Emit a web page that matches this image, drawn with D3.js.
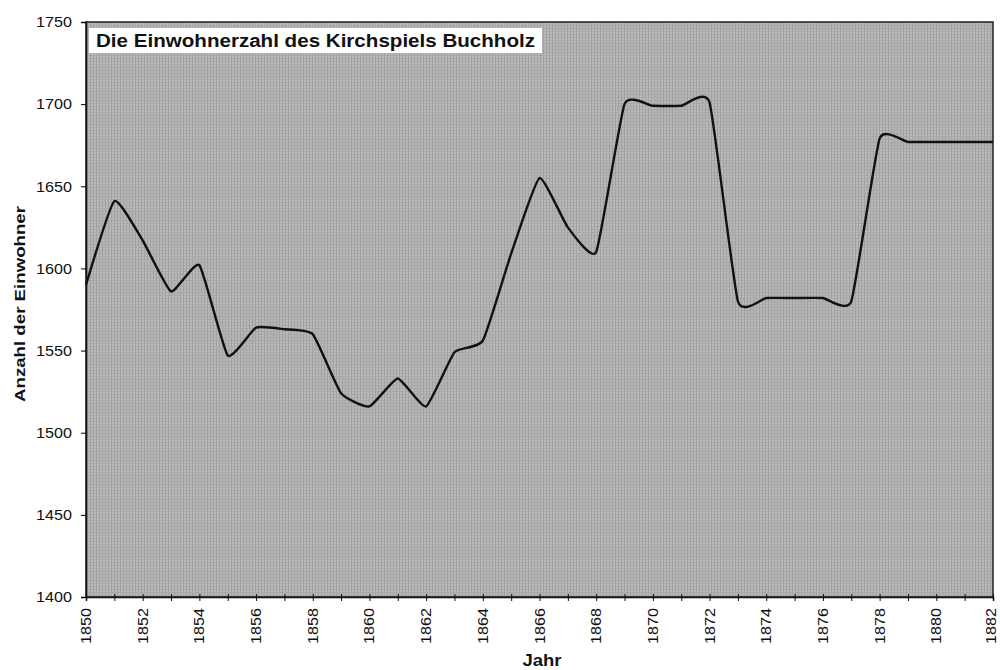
<!DOCTYPE html>
<html><head><meta charset="utf-8">
<script src="https://cdn.jsdelivr.net/npm/d3@7"></script>
<style>body{margin:0;background:#fff}svg{display:block}text{font-family:Arial,"Liberation Sans",sans-serif}</style>
</head><body><svg id="c" width="1000" height="670"></svg>
<script>
const years = [1850,1851,1852,1853,1854,1855,1856,1857,1858,1859,1860,1861,1862,1863,1864,1865,1866,1867,1868,1869,1870,1871,1872,1873,1874,1875,1876,1877,1878,1879,1880,1881,1882];
const population = [1590,1641,1617,1586,1602,1547,1564,1563,1560,1524,1516,1533,1516,1549,1556,1609,1655,1625,1610,1700,1699,1699,1701,1580,1582,1582,1582,1580,1679,1677,1677,1677,1677];
const yTicks = [1400,1450,1500,1550,1600,1650,1700,1750];
const xTicks = [1850,1852,1854,1856,1858,1860,1862,1864,1866,1868,1870,1872,1874,1876,1878,1880,1882];
const title = "Die Einwohnerzahl des Kirchspiels Buchholz";
const xTitle = "Jahr", yTitle = "Anzahl der Einwohner";

const svg = d3.select("#c");
const L=86,R=993,T=22,B=597;
const x = d3.scaleLinear().domain([1850,1882]).range([L,R]);
const y = d3.scaleLinear().domain([1400,1750]).range([B,T]);

const defs = svg.append("defs");
const pat = defs.append("pattern").attr("id","tex").attr("width",3).attr("height",3).attr("patternUnits","userSpaceOnUse");
pat.append("rect").attr("width",3).attr("height",3).attr("fill","#b9b9b9");
pat.append("rect").attr("x",0).attr("y",0).attr("width",1).attr("height",3).attr("fill","#a0a0a0");
pat.append("rect").attr("x",0).attr("y",1).attr("width",3).attr("height",1).attr("fill","#a8a8a8");

svg.append("rect").attr("x",L).attr("y",T).attr("width",R-L).attr("height",B-T).attr("fill","url(#tex)").attr("stroke","#222").attr("stroke-width",1.5);

const ya = svg.append("g").attr("transform",`translate(${L},0)`).call(d3.axisLeft(y).tickValues(yTicks).tickSize(5).tickPadding(9).tickFormat(d3.format("d")));
ya.select(".domain").attr("stroke","#111").attr("stroke-width",1.5);
ya.selectAll("text").attr("font-size",15).attr("fill","#111").attr("textLength",36).attr("lengthAdjust","spacingAndGlyphs");
const xa = svg.append("g").attr("transform",`translate(0,${B})`).call(d3.axisBottom(x).tickValues(years).tickSize(4).tickFormat(""));
xa.select(".domain").attr("stroke","#111").attr("stroke-width",1.5);
xa.selectAll("line").attr("y1",-3).attr("stroke","#111");
svg.append("g").selectAll("text").data(xTicks).join("text")
  .attr("transform",d=>`translate(${Math.min(x(d)+5,996)},${B+11}) rotate(-90)`)
  .attr("text-anchor","end").attr("font-size",15).attr("fill","#111")
  .attr("textLength",36).attr("lengthAdjust","spacingAndGlyphs").text(d=>d);

const line = d3.line().x((d,i)=>x(years[i])).y(d=>y(d)).curve(d3.curveCardinal.tension(0.55));
svg.append("path").datum(population).attr("d",line).attr("fill","none").attr("stroke","#111").attr("stroke-width",2.4);

svg.append("rect").attr("x",89).attr("y",28).attr("width",453).attr("height",25).attr("fill","#fff");
svg.append("text").attr("x",96).attr("y",47).attr("font-size",18).attr("font-weight","bold").attr("fill","#111")
  .attr("textLength",439).attr("lengthAdjust","spacingAndGlyphs").text(title);

svg.append("text").attr("x",542).attr("y",666).attr("text-anchor","middle").attr("font-size",16).attr("font-weight","bold").attr("fill","#111")
  .attr("textLength",39).attr("lengthAdjust","spacingAndGlyphs").text(xTitle);
svg.append("text").attr("transform","translate(25,304) rotate(-90)").attr("text-anchor","middle").attr("font-size",15).attr("font-weight","bold").attr("fill","#111")
  .attr("textLength",196).attr("lengthAdjust","spacingAndGlyphs").text(yTitle);
</script></body></html>
